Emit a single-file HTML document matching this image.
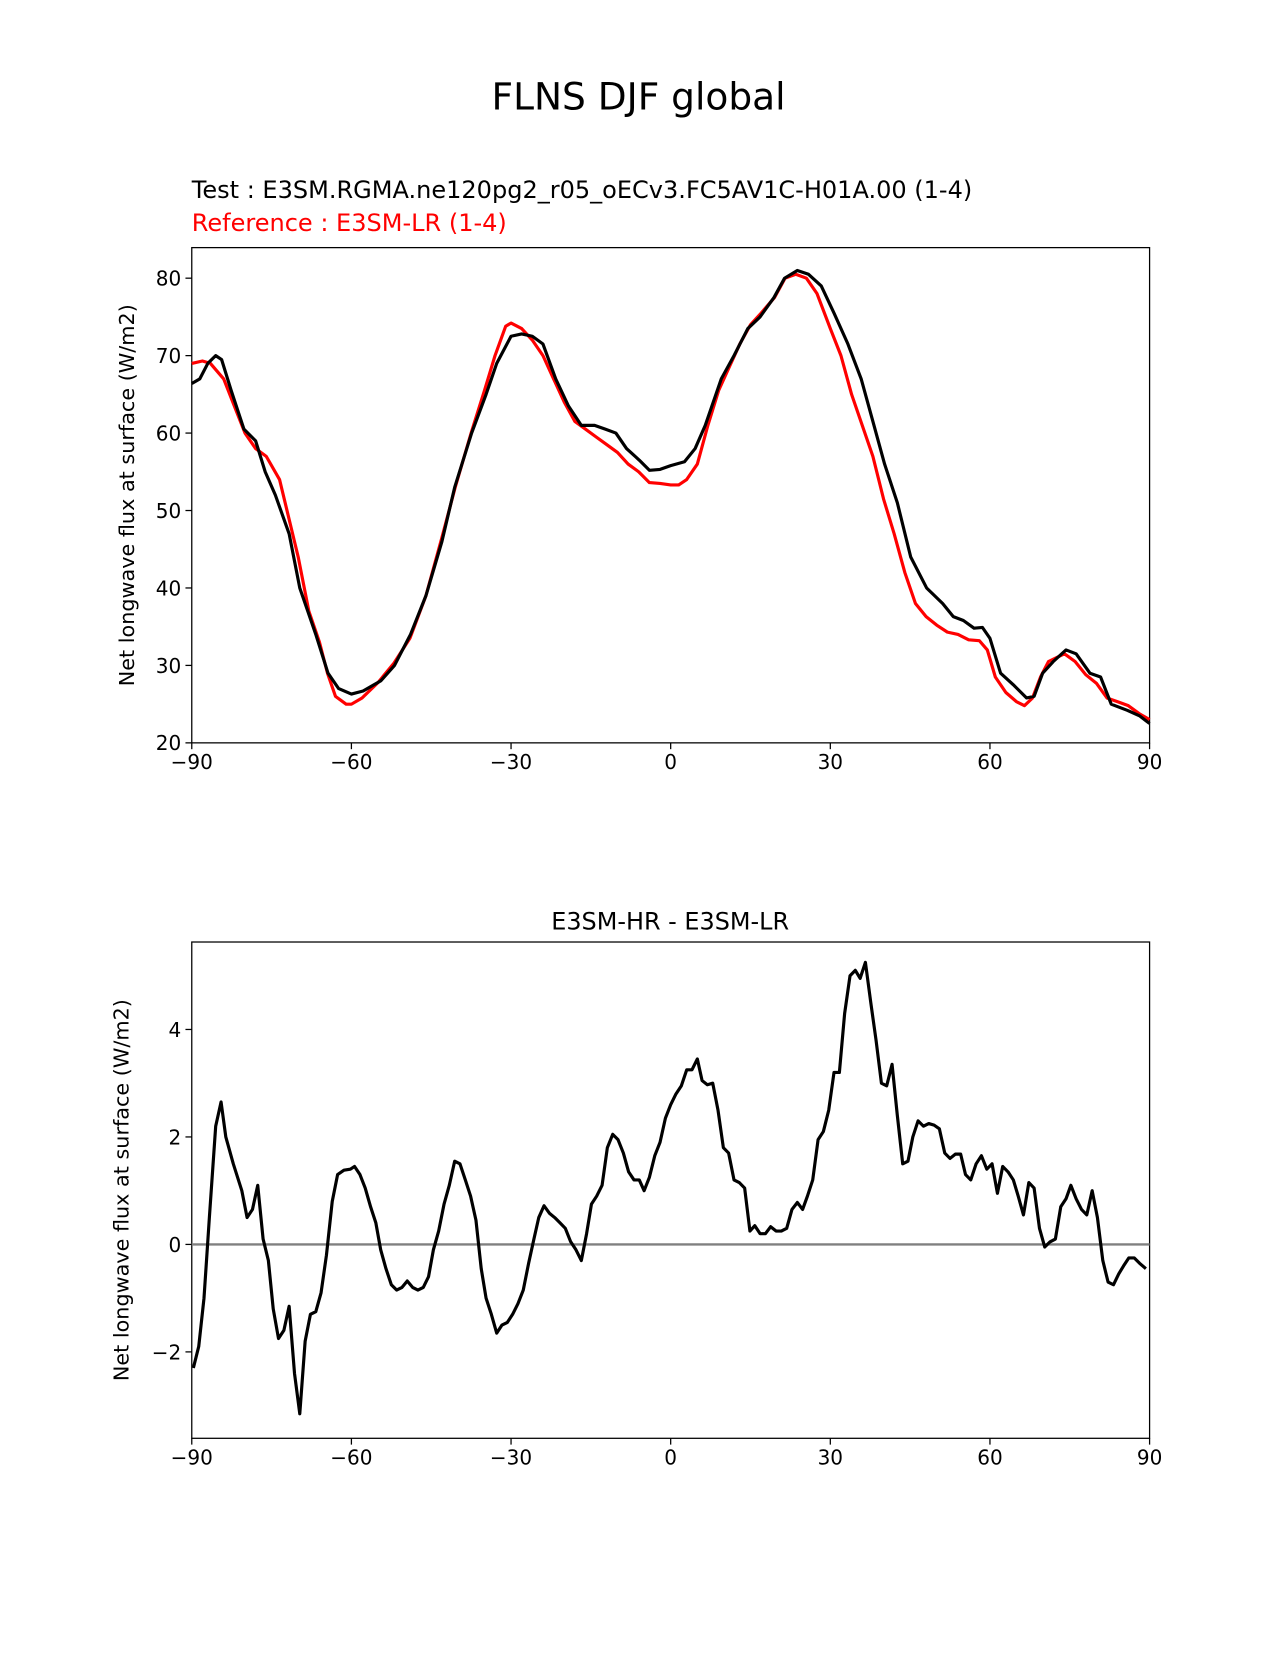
<!DOCTYPE html>
<html><head><meta charset="utf-8"><style>
html,body{margin:0;padding:0;background:#fff;}
svg text{font-family:"DejaVu Sans","Liberation Sans",sans-serif;}
</style></head><body>
<svg id="fig" width="1275" height="1650" xmlns="http://www.w3.org/2000/svg">
<g transform="scale(1.0537)">
<text x="606" y="104" font-size="35.6" text-anchor="middle">FLNS DJF global</text>
<text x="182" y="188" font-size="22.8">Test : E3SM.RGMA.ne120pg2_r05_oECv3.FC5AV1C-H01A.00 (1-4)</text>
<text x="182" y="219" font-size="22.8" fill="#ff0000">Reference : E3SM-LR (1-4)</text>
<text x="636" y="882" font-size="22.7" text-anchor="middle">E3SM-HR - E3SM-LR</text>
<g id="top"></g>
<g id="bot"></g>
</g>
</svg>
<script>
const testLat=[-90,-88.5,-87,-85.5,-84.4,-82.6,-80.2,-78,-76.2,-74.3,-71.7,-69.7,-66.7,-64.4,-62.4,-60,-57.8,-54.5,-51.9,-48.9,-46,-43,-40.6,-37.4,-34.7,-32.7,-30,-28,-26,-24,-21.6,-19.2,-16.8,-14.3,-12.3,-10.3,-8.3,-5.9,-4,-2,0,2.6,4.6,6.5,9.5,11.9,14.5,16.8,19.4,21.4,23.8,25.9,28.3,30.7,33.3,35.8,37.8,40.2,42.6,45.1,48.1,51.1,53.1,55,57,58.6,60,62,64.4,66.9,68.3,69.9,71.9,74.3,76.2,78.8,80.8,82.8,85.8,88.1,90];
const testVal=[66.4,67,69,70,69.5,65.5,60.5,59,55,52,47,40,34,29,27,26.3,26.7,28,30,34,39,46,53,60,65,69,72.5,72.8,72.5,71.5,67,63.5,61,61,60.5,60,58,56.5,55.2,55.3,55.8,56.3,58,61,67,70,73.5,75,77.5,80,81,80.5,79,75.5,71.5,67,62,56,51,44,40,38,36.3,35.8,34.8,34.9,33.5,29,27.5,25.8,26,29,30.5,32,31.5,29,28.5,25,24.2,23.5,22.5];
const refLat=[-90,-88,-86.5,-84,-82,-80,-78,-76,-73.5,-70,-68,-66,-64.5,-63,-61,-60,-58,-55,-52,-49,-46,-43,-40.5,-37.5,-35,-33,-31,-30,-28,-26,-24,-22,-20,-18,-16,-14,-12,-10,-8,-6,-4,-2,0,1.5,3,5,7,9,11,13,15,17,19.5,21.5,23.5,25.5,27.5,30,32,34,36,38,40,42,44,46,48,50,52,54,56,58,59.5,61,63,65,66.5,68,69.5,71,72.5,74,76,78,80,82,84,86,88,90];
const refVal=[69,69.3,69,67,63.5,60,58,57,54,44,37,33,29,26,25,25,25.8,27.8,30.3,33.5,39,46.5,53,60,65.5,70,73.8,74.2,73.5,72,70,67,64,61.5,60.5,59.5,58.5,57.5,56,55,53.6,53.5,53.3,53.3,54,56,61,65.5,68.5,71.5,74,75.5,77.5,80,80.5,80,78,73.5,70,65,61,57,51.5,47,42,38,36.3,35.2,34.3,34,33.3,33.2,32,28.5,26.5,25.3,24.8,25.8,28.5,30.5,31,31.5,30.5,28.8,27.7,25.8,25.3,24.8,23.8,23];
const diffLat=[-89.7,-88.7,-87.7,-86.7,-85.5,-84.5,-83.6,-82.2,-80.6,-79.6,-78.6,-77.6,-76.6,-75.6,-74.7,-73.7,-72.7,-71.7,-70.7,-69.7,-68.7,-67.7,-66.7,-65.7,-64.7,-63.6,-62.6,-61.4,-60.2,-59.4,-58.4,-57.4,-56.4,-55.4,-54.5,-53.5,-52.5,-51.5,-50.5,-49.5,-48.5,-47.5,-46.5,-45.5,-44.6,-43.6,-42.6,-41.6,-40.6,-39.6,-38.6,-37.6,-36.6,-35.6,-34.7,-33.7,-32.7,-31.7,-30.7,-29.7,-28.7,-27.7,-26.7,-25.7,-24.8,-23.8,-22.8,-21.8,-20.8,-19.8,-18.8,-17.8,-16.8,-15.8,-14.9,-13.9,-12.9,-11.9,-10.9,-9.9,-8.9,-7.9,-6.9,-5.9,-5,-4,-3,-2,-1,0,1,2,3,4,5,5.9,6.9,7.9,8.9,9.9,10.9,11.9,12.9,13.9,14.9,15.8,16.8,17.8,18.8,19.8,20.8,21.8,22.8,23.8,24.8,25.7,26.7,27.7,28.7,29.7,30.7,31.7,32.7,33.7,34.7,35.6,36.6,37.6,38.6,39.6,40.6,41.6,42.6,43.6,44.6,45.5,46.5,47.5,48.5,49.5,50.5,51.5,52.5,53.5,54.5,55.4,56.4,57.4,58.4,59.4,60.4,61.4,62.4,63.4,64.4,65.3,66.3,67.3,68.3,69.3,70.3,71.3,72.3,73.3,74.3,75.2,76.2,77.2,78.2,79.2,80.2,81.2,82.2,83.2,84.2,85.1,86.1,87.1,88.1,89.3];
const diffVal=[-2.3,-1.9,-1.0,0.5,2.2,2.65,2.0,1.5,1.0,0.5,0.65,1.1,0.1,-0.3,-1.2,-1.75,-1.6,-1.15,-2.4,-3.15,-1.8,-1.3,-1.25,-0.9,-0.2,0.8,1.3,1.38,1.4,1.45,1.3,1.05,0.7,0.4,-0.1,-0.45,-0.75,-0.85,-0.8,-0.68,-0.8,-0.85,-0.8,-0.6,-0.1,0.25,0.75,1.1,1.55,1.5,1.2,0.9,0.45,-0.45,-1.0,-1.3,-1.65,-1.5,-1.45,-1.3,-1.1,-0.85,-0.35,0.1,0.5,0.72,0.58,0.5,0.4,0.3,0.05,-0.1,-0.3,0.2,0.75,0.9,1.1,1.8,2.05,1.95,1.7,1.35,1.2,1.2,1.0,1.25,1.65,1.9,2.35,2.6,2.8,2.95,3.25,3.25,3.45,3.05,2.97,3.0,2.5,1.8,1.7,1.2,1.15,1.05,0.25,0.35,0.2,0.2,0.33,0.25,0.25,0.3,0.65,0.78,0.65,0.9,1.2,1.95,2.1,2.5,3.2,3.2,4.3,5.0,5.1,4.95,5.25,4.5,3.8,3.0,2.95,3.35,2.4,1.5,1.55,2.0,2.3,2.2,2.25,2.22,2.15,1.7,1.6,1.68,1.68,1.3,1.2,1.5,1.65,1.4,1.5,0.95,1.45,1.35,1.2,0.9,0.55,1.15,1.05,0.3,-0.05,0.05,0.1,0.7,0.85,1.1,0.85,0.65,0.55,1.0,0.5,-0.3,-0.7,-0.75,-0.55,-0.4,-0.25,-0.25,-0.35,-0.45];
const xTicks=[-90,-60,-30,0,30,60,90];
const xTickLabels=["\u221290","\u221260","\u221230","0","30","60","90"];
const topYTicks=[20,30,40,50,60,70,80];
const botYTicks=[-2,0,2,4];
const botYTickLabels=["\u22122","0","2","4"];

const NS="http://www.w3.org/2000/svg";
function mk(parent,tag,attrs,text){const e=document.createElementNS(NS,tag);for(const k in attrs)e.setAttribute(k,attrs[k]);if(text!==undefined)e.textContent=text;parent.appendChild(e);return e;}

function drawAxes(g,L,T,R,B,sx,sy,yTicks,yLabels,ylabel,lx){
  const fr=mk(g,'rect',{x:L,y:T,width:R-L,height:B-T,fill:'none',stroke:'#000','stroke-width':1.2});
  
  
  xTicks.forEach((v,i)=>{
    const x=sx(v);
    const t=mk(g,'line',{x1:x,y1:B,x2:x,y2:B+6,stroke:'#000','stroke-width':1.2});
    
    
    const l=mk(g,'text',{x:x,y:B+25,'font-size':19,'text-anchor':'middle'},xTickLabels[i]);
    
    
  });
  yTicks.forEach((v,i)=>{
    const y=sy(v);
    const t=mk(g,'line',{x1:L-6,y1:y,x2:L,y2:y,stroke:'#000','stroke-width':1.2});
    
    
    const l=mk(g,'text',{x:L-10,y:y+7,'font-size':19,'text-anchor':'end'},yLabels[i]);
    
    
  });
  const yl=mk(g,'text',{x:0,y:0,'font-size':19.7,'text-anchor':'middle',transform:`translate(${lx},${(T+B)/2}) rotate(-90)`},ylabel);
  
  
}
function line(g,lat,val,sx,sy,color,name){
  const d=lat.map((v,i)=>(i?'L':'M')+sx(v).toFixed(1)+','+sy(val[i]).toFixed(1)).join(' ');
  const p=mk(g,'path',{d:d,fill:'none',stroke:color,'stroke-width':3,'stroke-linejoin':'round'});
  
  
}
(function(){
  const g=document.getElementById('top');
  const L=182,R=1091,T=235,B=705;
  const sx=v=>L+(v+90)/180*(R-L);
  const sy=v=>705-(v-20)*7.35;
  drawAxes(g,L,T,R,B,sx,sy,topYTicks,topYTicks.map(String),'Net longwave flux at surface (W/m2)',127);
  line(g,refLat,refVal,sx,sy,'#ff0000','reference-line');
  line(g,testLat,testVal,sx,sy,'#000000','test-line');
})();
(function(){
  const g=document.getElementById('bot');
  const L=182,R=1091,T=894,B=1365;
  const sx=v=>L+(v+90)/180*(R-L);
  const sy=v=>1181-v*51;
  drawAxes(g,L,T,R,B,sx,sy,botYTicks,botYTickLabels,'Net longwave flux at surface (W/m2)',122);
  const z=mk(g,'line',{x1:L,y1:sy(0),x2:R,y2:sy(0),stroke:'#808080','stroke-width':2.2});
  
  
  line(g,diffLat,diffVal,sx,sy,'#000000','diff-line');
})();
</script>
</body></html>
